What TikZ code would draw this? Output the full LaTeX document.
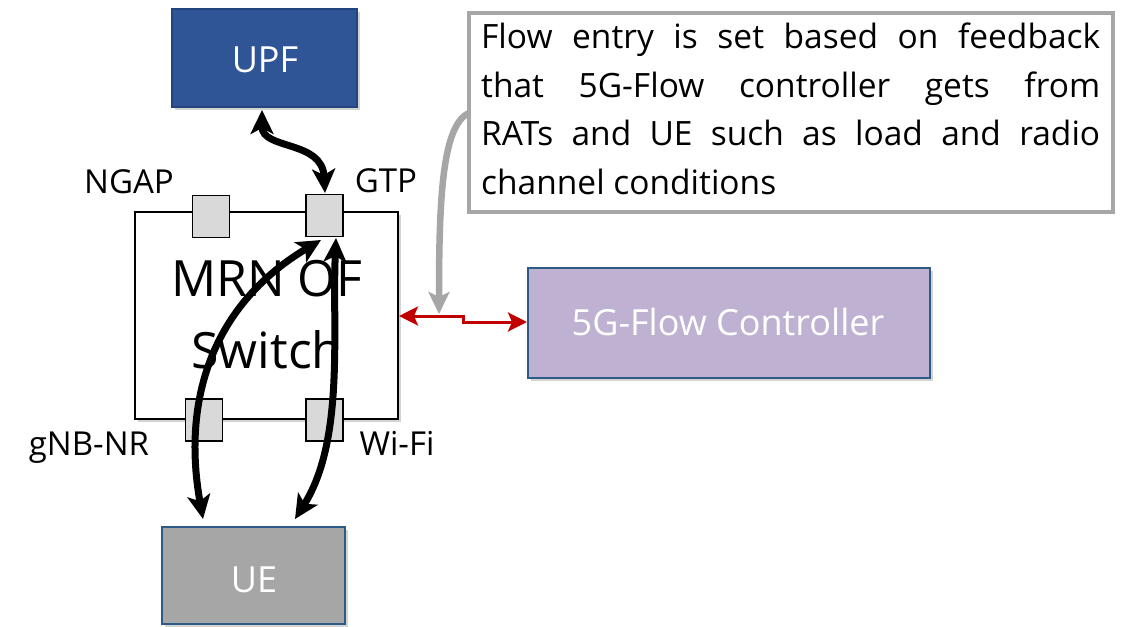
\documentclass[tikz,border=0pt]{standalone}
\usepackage{fontspec}
\setmainfont{Open Sans}
\usetikzlibrary{arrows.meta,shadows}
\definecolor{upfblue}{HTML}{2F5597}
\definecolor{upfedge}{HTML}{22457F}
\definecolor{uegray}{HTML}{A6A6A6}
\definecolor{boxedge}{HTML}{2E5A88}
\definecolor{ctrlfill}{HTML}{BFB1D2}
\definecolor{portfill}{HTML}{D9D9D9}
\definecolor{calloutgray}{HTML}{A6A6A6}
\definecolor{linkred}{HTML}{C00000}
\begin{document}
\begin{tikzpicture}[x=1pt,y=-1pt,
  shadowed/.style={drop shadow={shadow xshift=3pt,shadow yshift=-3pt,opacity=0.35}},
  bigbox/.style={rectangle,inner sep=0pt,line width=2pt,shadowed},
  port/.style={rectangle,draw=black,fill=portfill,line width=1.8pt,inner sep=0pt,minimum width=37pt,minimum height=42pt},
  lbl/.style={font=\fontsize{33}{38}\selectfont,inner sep=0pt,anchor=base},
  boxtext/.style={font=\fontsize{36}{42}\selectfont,text=white,inner sep=0pt,anchor=base},
  flowarrow/.style={line width=7pt,black,{Stealth[length=24pt,width=23pt,inset=6pt]}-{Stealth[length=24pt,width=23pt,inset=6pt]}},
]
\useasboundingbox (0,0) rectangle (1123,626);

% boxes
\node[bigbox,draw=upfedge,fill=upfblue,minimum width=185pt,minimum height=98pt] (upf) at (264.5,58) {};
\node[boxtext] at (265,72) {UPF};

\node[bigbox,draw=black,fill=white,minimum width=263pt,minimum height=207pt] (sw) at (266.5,315.5) {};
\node[font=\fontsize{50}{72}\selectfont,align=center,inner sep=0pt,anchor=north] (swtext) at (267,260) {MRN OF\\Switch};

\node[port] (ngap) at (211,216.5) {};
\node[port] (gtp) at (324.5,215.5) {};
\node[port] (gnb) at (204,420) {};
\node[port] (wifi) at (324.5,420) {};

\node[lbl] (ngapl) at (129,193) {NGAP};
\node[lbl] (gtpl) at (386,192) {GTP};
\node[lbl] (gnbl) at (89,455) {gNB-NR};
\node[lbl] (wifil) at (397,455) {Wi-Fi};

\node[bigbox,draw=boxedge,fill=uegray,minimum width=183pt,minimum height=97pt] (ue) at (253.5,575.5) {};
\node[boxtext] at (254,592) {UE};

\node[bigbox,draw=boxedge,fill=ctrlfill,minimum width=402pt,minimum height=110pt] (ctrl) at (729,323) {};
\node[boxtext] at (728,335) {5G-Flow Controller};

\node[rectangle,draw=calloutgray,line width=3.5pt,fill=white,inner sep=0pt,minimum width=644pt,minimum height=199pt] (callout) at (791,112.5) {};
\node[font=\fontsize{33.5}{48.5}\selectfont,align=left,inner sep=0pt,anchor=north west] (callouttext) at (481,23)
  {\makebox[619pt][s]{Flow entry is set based on feedback}\\
   \makebox[619pt][s]{that 5G-Flow controller gets from}\\
   \makebox[619pt][s]{RATs and UE such as load and radio}\\
   channel conditions};

% coordinates on connectors
\coordinate (upfb) at (262,110);
\coordinate (gtpt) at (325,193);
\coordinate (gtpa) at (321,240);
\coordinate (gtpb) at (336,238);
\coordinate (ueA) at (203,519);
\coordinate (ueB) at (295,519);
\coordinate (swr) at (399,316);
\coordinate (ctrll) at (527,322);
\coordinate (cl) at (469,113);
\coordinate (redtop) at (439,314);

% black flows
\draw[flowarrow] (upfb) .. controls (262,150) and (322,140) .. (gtpt);
\draw[flowarrow] (ueA) .. controls (180,390) and (220,300) .. (gtpa);
\draw[flowarrow] (gtpb) .. controls (332,330) and (345,440) .. (ueB);

% red link
\draw[linkred,line width=3pt,{Stealth[length=19pt,width=19pt,inset=4pt]}-{Stealth[length=19pt,width=19pt,inset=4pt]}]
  (swr) -- (463,316) -- (463,322) -- (ctrll);

% gray callout pointer
\draw[calloutgray,line width=6.5pt,-{Stealth[length=22pt,width=21pt,inset=5pt]}]
  (cl) .. controls (442,125) and (439,200) .. (redtop);
\end{tikzpicture}
\end{document}
